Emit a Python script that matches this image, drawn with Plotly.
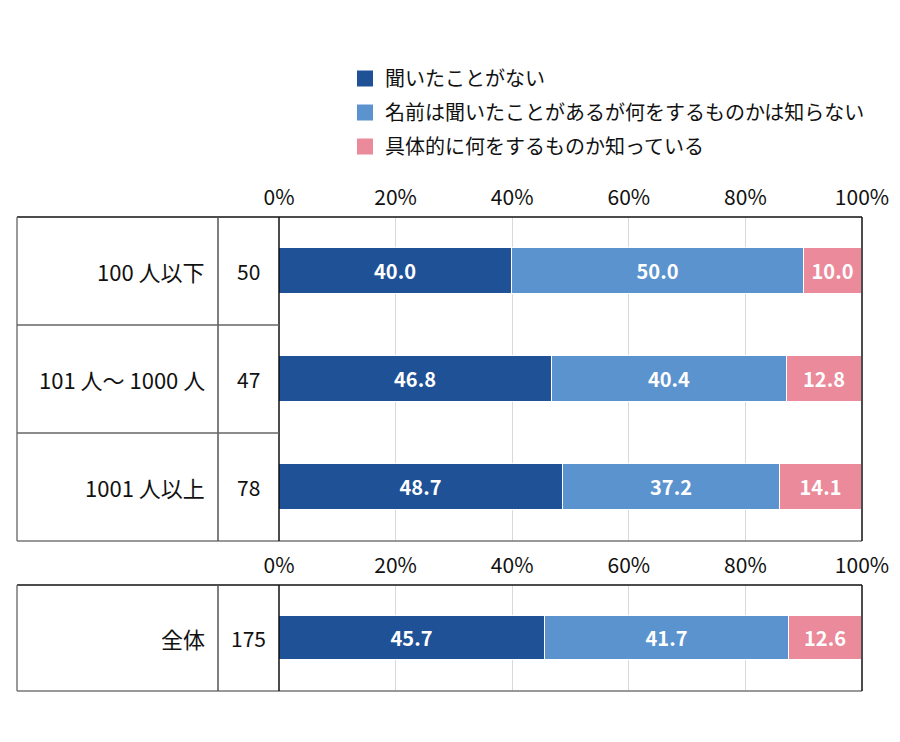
import plotly.graph_objects as go

# group rows (top panel) and the overall row (bottom panel)
GROUPS = ["100 人以下", "101 人～ 1000 人", "1001 人以上"]
GROUP_N = [50, 47, 78]
TOTAL = ["全体"]
TOTAL_N = [175]

SERIES = ["聞いたことがない",
          "名前は聞いたことがあるが何をするものかは知らない",
          "具体的に何をするものか知っている"]
GROUP_VALUES = [
    [40.0, 46.8, 48.7],
    [50.0, 40.4, 37.2],
    [10.0, 12.8, 14.1],
]
TOTAL_VALUES = [[45.7], [41.7], [12.6]]
COLORS = ["#1F5197", "#5B93CF", "#EA8A9B"]

TICKS = [0, 20, 40, 60, 80, 100]
TICK_TEXT = [f"{t}%" for t in TICKS]

# page has an 8px body margin, so the figure is sized to fit inside the window
PAD = 8
W, H = 900 - 2 * PAD, 742 - 2 * PAD
FONT = "Noto Sans CJK JP, Noto Sans, sans-serif"


def px_x(x):
    return (x - PAD) / W


def px_y(y):
    return 1 - (y - PAD) / H


fig = go.Figure()

for k, (name, vals, tot, col) in enumerate(zip(SERIES, GROUP_VALUES, TOTAL_VALUES, COLORS)):
    common = dict(orientation="h", marker=dict(color=col, line=dict(color="white", width=1)),
                  width=0.42, textposition="inside", insidetextanchor="middle",
                  textfont=dict(color="white", size=20, family=FONT, weight="bold"),
                  texttemplate="%{x:.1f}", showlegend=False, hoverinfo="skip")
    fig.add_trace(go.Bar(x=vals, y=GROUPS, name=name, xaxis="x", yaxis="y", **common))
    fig.add_trace(go.Bar(x=tot, y=TOTAL, name=name, xaxis="x2", yaxis="y2", **common))
    # legend swatch
    fig.add_trace(go.Scatter(x=[None], y=[None], mode="markers", name=name,
                             legendgroup=f"g{k}",
                             marker=dict(symbol="square", size=20, color=col),
                             xaxis="x", yaxis="y"))

# panel geometry in pixels
X0, X1 = 279, 862
LEFT, COL = 17, 218
TOP1, BOT1 = 217, 541
TOP2, BOT2 = 585, 691

xcommon = dict(range=[0, 100], tickvals=TICKS, ticktext=TICK_TEXT, side="top",
               showgrid=True, gridcolor="#d9d9d9", gridwidth=1, zeroline=False,
               showline=False, ticks="", tickfont=dict(size=21, color="#111", family=FONT),
               ticklabelstandoff=7, fixedrange=True, automargin=False)
fig.update_layout(
    xaxis=dict(domain=[px_x(X0), px_x(X1)], anchor="y", **xcommon),
    xaxis2=dict(domain=[px_x(X0), px_x(X1)], anchor="y2", **xcommon),
    yaxis=dict(domain=[px_y(BOT1), px_y(TOP1)], anchor="x", categoryorder="array",
               categoryarray=GROUPS, autorange="reversed", showticklabels=False,
               showgrid=False, fixedrange=True, automargin=False),
    yaxis2=dict(domain=[px_y(BOT2), px_y(TOP2)], anchor="x2", showticklabels=False,
                showgrid=False, fixedrange=True, automargin=False),
    barmode="stack",
    bargap=0,
)

# table lines
shapes = []


def line(x0, y0, x1, y1, color):
    shapes.append(dict(type="line", xref="paper", yref="paper",
                       x0=px_x(x0), y0=px_y(y0), x1=px_x(x1), y1=px_y(y1),
                       line=dict(color=color, width=1.5)))


for top, bot, n in [(TOP1, BOT1, len(GROUPS)), (TOP2, BOT2, 1)]:
    line(LEFT, top, X1, top, "#111")
    line(LEFT, bot, X1, bot, "#777")
    line(LEFT, top, LEFT, bot, "#777")
    line(COL, top, COL, bot, "#555")
    line(X0, top, X0, bot, "#111")
    line(X1, top, X1, bot, "#111")
    step = (bot - top) / n
    for i in range(1, n):
        line(LEFT, top + i * step, X0, top + i * step, "#666")

annotations = []
for labels, counts, top, bot in [(GROUPS, GROUP_N, TOP1, BOT1), (TOTAL, TOTAL_N, TOP2, BOT2)]:
    step = (bot - top) / len(labels)
    for i, (lab, n) in enumerate(zip(labels, counts)):
        yc = px_y(top + (i + 0.5) * step)
        annotations.append(dict(x=px_x(COL - 11), y=yc, xref="paper", yref="paper",
                                text=lab, showarrow=False, xanchor="right", yanchor="middle",
                                font=dict(size=22, color="#111", family=FONT)))
        annotations.append(dict(x=px_x((COL + X0) / 2), y=yc, xref="paper", yref="paper",
                                text=str(n), showarrow=False, xanchor="center",
                                yanchor="middle",
                                font=dict(size=21, color="#111", family=FONT)))

fig.update_layout(
    shapes=shapes,
    annotations=annotations,
    width=W, height=H,
    margin=dict(l=0, r=0, t=0, b=0, autoexpand=False),
    paper_bgcolor="white", plot_bgcolor="white",
    font=dict(family=FONT, size=20, color="#111"),
    legend=dict(x=px_x(345), y=px_y(59), xanchor="left", yanchor="top",
                traceorder="grouped", tracegroupgap=5,
                font=dict(size=20, color="#111", family=FONT),
                bgcolor="rgba(0,0,0,0)", itemclick=False, itemdoubleclick=False),
)

fig.write_html("out.html")
